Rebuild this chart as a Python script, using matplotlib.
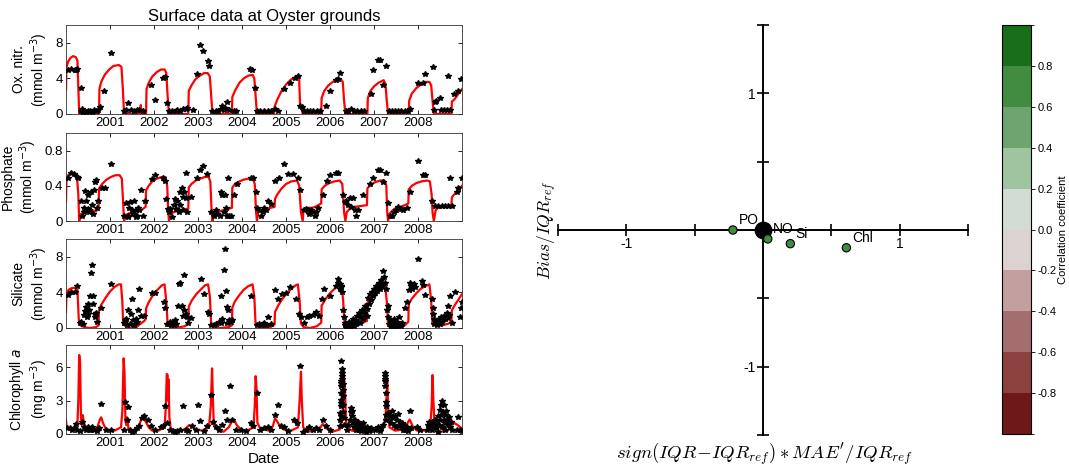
import numpy as np
import matplotlib
matplotlib.use("Agg")
import matplotlib.pyplot as plt
from matplotlib.colors import ListedColormap, BoundaryNorm
from matplotlib.cm import ScalarMappable

plt.rcParams['font.family'] = ['Liberation Sans', 'DejaVu Sans']

# ---------------- time series (decimal years) ----------------
years = [2001, 2002, 2003, 2004, 2005, 2006, 2007, 2008]

# oxidised nitrogen: model (red) + observations (stars)
no_t = [2000.00, 2000.01, 2000.05, 2000.10, 2000.16, 2000.22, 2000.26, 2000.28, 2000.30,
        2000.75, 2000.76, 2000.80, 2000.88, 2000.98, 2001.08, 2001.20, 2001.26, 2001.29, 2001.32,
        2001.68, 2001.70, 2001.72, 2001.82, 2001.83, 2001.88, 2001.96, 2002.06, 2002.16, 2002.24, 2002.28, 2002.31, 2002.34,
        2002.78, 2002.79, 2002.85, 2002.94, 2003.04, 2003.14, 2003.22, 2003.27, 2003.30, 2003.33,
        2003.77, 2003.78, 2003.84, 2003.94, 2004.04, 2004.14, 2004.24, 2004.28, 2004.31, 2004.34,
        2004.73, 2004.74, 2004.77, 2004.80, 2004.90, 2005.00, 2005.12, 2005.27, 2005.30, 2005.32, 2005.35, 2005.38,
        2005.80, 2005.81, 2005.87, 2005.96, 2006.06, 2006.16, 2006.25, 2006.29, 2006.32, 2006.35,
        2006.85, 2006.86, 2006.92, 2007.00, 2007.10, 2007.22, 2007.26, 2007.29, 2007.32,
        2007.79, 2007.80, 2007.86, 2007.96, 2008.06, 2008.16, 2008.26, 2008.30, 2008.33, 2008.36,
        2008.76, 2008.77, 2008.82, 2008.88, 2008.95, 2009.00]
no_m = [2.7, 5.2, 5.9, 6.3, 6.5, 6.4, 6.0, 3.0, 0.0,
        0.0, 2.8, 3.6, 4.4, 5.0, 5.4, 5.5, 5.3, 3.0, 0.0,
        0.0, 1.0, 0.0, 0.0, 2.8, 3.5, 4.2, 4.7, 5.0, 5.0, 4.6, 2.0, 0.0,
        0.0, 2.6, 3.2, 3.9, 4.3, 4.6, 4.6, 4.2, 2.0, 0.0,
        0.0, 1.9, 2.6, 3.5, 4.0, 4.3, 4.4, 4.0, 2.0, 0.0,
        0.0, 0.8, 1.2, 1.6, 2.6, 3.3, 3.9, 4.2, 3.8, 0.9, 0.8, 0.0,
        0.0, 1.8, 2.6, 3.2, 3.6, 3.9, 3.9, 3.6, 1.5, 0.0,
        0.0, 1.8, 2.6, 3.1, 3.5, 3.8, 3.4, 1.5, 0.0,
        0.0, 1.5, 2.3, 2.9, 3.3, 3.6, 3.6, 3.2, 1.5, 0.0,
        0.0, 1.4, 1.6, 2.0, 2.5, 2.8]
no_obs_t = [2000.05, 2000.11, 2000.20, 2000.23, 2000.26, 2000.35, 2000.33, 2000.36, 2000.38, 2000.42,
            2000.46, 2000.50, 2000.55, 2000.60, 2000.63, 2000.68, 2000.72, 2000.77, 2000.87, 2001.03,
            2001.32, 2001.37, 2001.42, 2001.48, 2001.54, 2001.61, 2001.67, 2001.75, 2001.93, 2002.02,
            2002.20, 2002.24, 2002.30, 2002.34, 2002.41, 2002.49, 2002.53, 2002.60, 2002.66, 2002.72,
            2002.75, 2002.89, 2002.97, 2003.04, 2003.12, 2003.22, 2003.24, 2003.31, 2003.40, 2003.46,
            2003.52, 2003.54, 2003.58, 2003.61, 2003.67, 2003.71, 2003.81, 2003.87, 2004.19, 2004.22,
            2004.29, 2004.35, 2004.42, 2004.50, 2004.58, 2004.66, 2004.75, 2004.81, 2004.96, 2005.08,
            2005.21, 2005.27, 2005.32, 2005.36, 2005.42, 2005.48, 2005.55, 2005.62, 2005.70, 2005.78,
            2005.91, 2005.99, 2006.14, 2006.18, 2006.22, 2006.36, 2006.42, 2006.48, 2006.55, 2006.62,
            2006.70, 2006.78, 2006.93, 2006.98, 2007.08, 2007.13, 2007.21, 2007.28, 2007.33, 2007.40,
            2007.47, 2007.55, 2007.62, 2007.70, 2007.77, 2007.82, 2007.99, 2008.12, 2008.16, 2008.33,
            2008.36, 2008.39, 2008.42, 2008.50, 2008.52, 2008.60, 2008.66, 2008.69, 2008.73, 2008.81,
            2008.92, 2008.98]
no_obs = [4.9, 5.1, 5.0, 5.0, 5.1, 2.9, 0.3, 0.6, 0.2, 0.3,
          0.2, 0.3, 0.3, 0.2, 0.4, 0.3, 0.5, 0.8, 2.6, 6.8,
          0.3, 0.4, 1.2, 0.5, 0.3, 0.4, 0.5, 0.3, 3.3, 1.6,
          4.1, 4.2, 1.2, 0.3, 0.3, 0.3, 0.5, 0.3, 0.6, 0.6,
          0.7, 0.4, 4.5, 7.7, 7.1, 5.9, 5.4, 0.3, 0.3, 0.3,
          0.6, 0.9, 0.4, 0.7, 1.3, 0.5, 0.3, 0.3, 5.1, 4.9,
          2.9, 0.3, 0.3, 0.3, 0.3, 0.3, 0.6, 0.3, 2.8, 3.5,
          4.1, 4.3, 0.9, 0.8, 0.3, 0.3, 0.3, 0.3, 0.3, 0.3,
          0.9, 2.6, 3.8, 3.9, 4.6, 0.3, 0.3, 0.6, 0.3, 0.3,
          0.3, 0.3, 2.2, 4.9, 6.1, 6.1, 3.3, 5.4, 0.3, 0.3,
          0.3, 0.3, 0.3, 0.3, 0.3, 0.6, 3.5, 3.5, 4.5, 5.3,
          0.5, 1.4, 1.5, 1.8, 0.5, 0.4, 0.4, 4.3, 0.5, 2.3,
          2.6, 3.9]

# phosphate
po_t = [2000.00, 2000.01, 2000.05, 2000.12, 2000.20, 2000.25, 2000.28, 2000.30, 2000.32, 2000.34,
        2000.45, 2000.55, 2000.62, 2000.68, 2000.74, 2000.75, 2000.82, 2000.92, 2001.02, 2001.12,
        2001.22, 2001.27, 2001.30, 2001.32, 2001.35, 2001.40, 2001.50, 2001.60, 2001.66, 2001.70,
        2001.78, 2001.81, 2001.82, 2001.88, 2001.96, 2002.06, 2002.18, 2002.26, 2002.30, 2002.32,
        2002.34, 2002.36, 2002.45, 2002.55, 2002.65, 2002.78, 2002.79, 2002.85, 2002.95, 2003.05,
        2003.15, 2003.24, 2003.28, 2003.31, 2003.33, 2003.36, 2003.45, 2003.55, 2003.65, 2003.77,
        2003.78, 2003.84, 2003.94, 2004.04, 2004.14, 2004.25, 2004.29, 2004.32, 2004.34, 2004.37,
        2004.45, 2004.55, 2004.65, 2004.74, 2004.75, 2004.80, 2004.90, 2005.00, 2005.12, 2005.25,
        2005.30, 2005.34, 2005.38, 2005.40, 2005.50, 2005.60, 2005.70, 2005.80, 2005.81, 2005.88,
        2005.98, 2006.10, 2006.22, 2006.28, 2006.32, 2006.35, 2006.38, 2006.45, 2006.55, 2006.70,
        2006.84, 2006.85, 2006.92, 2007.02, 2007.14, 2007.24, 2007.28, 2007.30, 2007.32, 2007.35,
        2007.42, 2007.50, 2007.60, 2007.70, 2007.78, 2007.79, 2007.86, 2007.96, 2008.08, 2008.20,
        2008.27, 2008.31, 2008.33, 2008.36, 2008.40, 2008.45, 2008.55, 2008.65, 2008.76, 2008.77,
        2008.82, 2008.90, 2008.96, 2009.00]
po_m = [0.22, 0.45, 0.52, 0.55, 0.53, 0.50, 0.30, 0.00, 0.05, 0.08,
        0.10, 0.10, 0.12, 0.11, 0.14, 0.37, 0.42, 0.47, 0.50, 0.52,
        0.52, 0.48, 0.20, 0.00, 0.06, 0.08, 0.10, 0.11, 0.14, 0.12,
        0.15, 0.16, 0.35, 0.40, 0.45, 0.48, 0.50, 0.50, 0.40, 0.15,
        0.00, 0.08, 0.10, 0.12, 0.13, 0.14, 0.38, 0.42, 0.46, 0.48,
        0.50, 0.50, 0.45, 0.10, 0.00, 0.07, 0.10, 0.12, 0.13, 0.15,
        0.38, 0.42, 0.45, 0.47, 0.48, 0.48, 0.42, 0.10, 0.00, 0.10,
        0.12, 0.14, 0.15, 0.16, 0.25, 0.30, 0.37, 0.42, 0.45, 0.46,
        0.40, 0.10, 0.00, 0.14, 0.15, 0.15, 0.17, 0.20, 0.36, 0.40,
        0.43, 0.45, 0.46, 0.42, 0.10, 0.00, 0.10, 0.14, 0.16, 0.17,
        0.18, 0.37, 0.41, 0.44, 0.46, 0.46, 0.40, 0.10, 0.00, 0.08,
        0.12, 0.15, 0.16, 0.18, 0.20, 0.36, 0.40, 0.43, 0.45, 0.46,
        0.45, 0.30, 0.10, 0.00, 0.12, 0.15, 0.16, 0.17, 0.18, 0.27,
        0.30, 0.34, 0.37, 0.40]
po_obs_t = [2000.05, 2000.11, 2000.18, 2000.24, 2000.28, 2000.33, 2000.36, 2000.40, 2000.43, 2000.46,
            2000.49, 2000.51, 2000.53, 2000.56, 2000.59, 2000.61, 2000.64, 2000.66, 2000.68, 2000.70,
            2000.72, 2000.52, 2000.41, 2000.81, 2000.89, 2001.02, 2001.32, 2001.36, 2001.40, 2001.43,
            2001.46, 2001.49, 2001.52, 2001.55, 2001.58, 2001.61, 2001.64, 2001.67, 2001.70, 2001.74,
            2001.59, 2001.42, 2001.80, 2001.96, 2002.03, 2002.21, 2002.24, 2002.28, 2002.31, 2002.34,
            2002.37, 2002.41, 2002.45, 2002.48, 2002.51, 2002.53, 2002.56, 2002.58, 2002.60, 2002.63,
            2002.65, 2002.67, 2002.69, 2002.72, 2002.75, 2002.73, 2002.83, 2002.97, 2003.04, 2003.12,
            2003.21, 2003.30, 2003.36, 2003.40, 2003.44, 2003.50, 2003.53, 2003.55, 2003.58, 2003.61,
            2003.63, 2003.65, 2003.68, 2003.71, 2003.74, 2003.81, 2003.88, 2004.20, 2004.24, 2004.32,
            2004.35, 2004.39, 2004.43, 2004.47, 2004.51, 2004.54, 2004.58, 2004.66, 2004.75, 2004.85,
            2004.95, 2005.05, 2005.15, 2005.27, 2005.31, 2005.42, 2005.46, 2005.49, 2005.53, 2005.57,
            2005.61, 2005.65, 2005.69, 2005.72, 2005.84, 2005.94, 2005.99, 2006.14, 2006.19, 2006.29,
            2006.33, 2006.37, 2006.41, 2006.45, 2006.48, 2006.52, 2006.56, 2006.60, 2006.64, 2006.75,
            2006.90, 2006.98, 2007.08, 2007.13, 2007.21, 2007.28, 2007.32, 2007.36, 2007.41, 2007.46,
            2007.51, 2007.55, 2007.61, 2007.66, 2007.74, 2007.82, 2007.99, 2008.12, 2008.17, 2008.31,
            2008.39, 2008.46, 2008.54, 2008.61, 2008.69, 2008.73, 2008.78, 2008.88, 2008.92, 2008.99]
po_obs = [0.49, 0.55, 0.53, 0.50, 0.49, 0.23, 0.06, 0.15, 0.34, 0.23,
          0.14, 0.30, 0.10, 0.33, 0.18, 0.08, 0.35, 0.44, 0.47, 0.15,
          0.23, 0.12, 0.10, 0.38, 0.38, 0.65, 0.06, 0.20, 0.06, 0.15,
          0.22, 0.12, 0.08, 0.23, 0.13, 0.06, 0.15, 0.12, 0.35, 0.06,
          0.05, 0.05, 0.23, 0.48, 0.52, 0.49, 0.45, 0.25, 0.14, 0.10,
          0.14, 0.05, 0.18, 0.25, 0.14, 0.23, 0.10, 0.18, 0.33, 0.38,
          0.27, 0.12, 0.33, 0.26, 0.10, 0.55, 0.27, 0.49, 0.58, 0.62,
          0.53, 0.10, 0.06, 0.12, 0.08, 0.06, 0.33, 0.29, 0.10, 0.29,
          0.15, 0.06, 0.49, 0.06, 0.06, 0.29, 0.42, 0.49, 0.49, 0.33,
          0.15, 0.13, 0.06, 0.10, 0.15, 0.12, 0.23, 0.19, 0.45, 0.49,
          0.65, 0.53, 0.53, 0.49, 0.35, 0.12, 0.14, 0.12, 0.08, 0.13,
          0.10, 0.06, 0.10, 0.15, 0.29, 0.45, 0.52, 0.55, 0.55, 0.29,
          0.22, 0.23, 0.18, 0.26, 0.16, 0.26, 0.12, 0.06, 0.12, 0.29,
          0.42, 0.49, 0.58, 0.58, 0.44, 0.55, 0.20, 0.06, 0.06, 0.10,
          0.12, 0.16, 0.14, 0.13, 0.15, 0.33, 0.68, 0.52, 0.52, 0.23,
          0.17, 0.17, 0.17, 0.17, 0.17, 0.49, 0.17, 0.33, 0.37, 0.49]

# silicate
si_t = [2000.00, 2000.01, 2000.06, 2000.14, 2000.22, 2000.26, 2000.29, 2000.31, 2000.36, 2000.45,
        2000.55, 2000.68, 2000.74, 2000.75, 2000.80, 2000.90, 2001.00, 2001.10, 2001.20, 2001.25,
        2001.28, 2001.30, 2001.36, 2001.45, 2001.60, 2001.70, 2001.78, 2001.81, 2001.82, 2001.88,
        2001.98, 2002.08, 2002.18, 2002.24, 2002.28, 2002.31, 2002.38, 2002.50, 2002.70, 2002.78,
        2002.79, 2002.86, 2002.96, 2003.06, 2003.16, 2003.23, 2003.27, 2003.30, 2003.36, 2003.50,
        2003.70, 2003.77, 2003.78, 2003.84, 2003.94, 2004.04, 2004.14, 2004.24, 2004.28, 2004.31,
        2004.38, 2004.50, 2004.65, 2004.74, 2004.75, 2004.82, 2004.92, 2005.02, 2005.12, 2005.22,
        2005.27, 2005.31, 2005.34, 2005.40, 2005.55, 2005.70, 2005.80, 2005.81, 2005.88, 2005.98,
        2006.08, 2006.18, 2006.26, 2006.30, 2006.33, 2006.40, 2006.55, 2006.70, 2006.84, 2006.85,
        2006.92, 2007.02, 2007.12, 2007.20, 2007.25, 2007.29, 2007.32, 2007.40, 2007.55, 2007.70,
        2007.78, 2007.79, 2007.86, 2007.96, 2008.06, 2008.16, 2008.26, 2008.30, 2008.33, 2008.40,
        2008.55, 2008.70, 2008.76, 2008.77, 2008.84, 2008.92, 2009.00]
si_m = [1.8, 3.8, 4.3, 4.5, 4.5, 4.3, 1.0, 0.4, 0.2, 0.05,
        0.0, 0.1, 0.3, 2.0, 2.6, 3.4, 4.1, 4.6, 4.9, 4.9,
        3.0, 0.4, 0.2, 0.0, 0.1, 0.5, 0.8, 1.0, 2.2, 2.9,
        3.7, 4.3, 4.8, 4.9, 3.0, 0.4, 0.1, 0.0, 0.2, 0.5,
        2.4, 3.1, 3.8, 4.3, 4.8, 4.9, 3.5, 0.3, 0.1, 0.0,
        0.1, 0.3, 2.3, 3.0, 3.7, 4.3, 4.7, 4.9, 3.5, 0.3,
        0.1, 0.0, 0.1, 0.4, 1.8, 2.5, 3.3, 3.9, 4.4, 4.8,
        4.9, 3.0, 0.5, 0.1, 0.0, 0.2, 0.6, 2.5, 3.1, 3.8,
        4.3, 4.7, 4.9, 3.0, 0.5, 0.2, 0.3, 0.5, 0.8, 2.8,
        3.4, 4.0, 4.5, 4.8, 4.9, 3.0, 0.4, 0.1, 0.0, 0.3,
        0.7, 2.7, 3.3, 3.9, 4.4, 4.7, 4.9, 3.0, 0.4, 0.3,
        0.3, 0.5, 0.8, 2.0, 2.6, 3.2, 3.8]
si_obs_t = [2000.05, 2000.11, 2000.21, 2000.26, 2000.32, 2000.35, 2000.38, 2000.41, 2000.43, 2000.46,
            2000.47, 2000.49, 2000.51, 2000.53, 2000.55, 2000.56, 2000.59, 2000.61, 2000.62, 2000.65,
            2000.66, 2000.68, 2000.70, 2000.79, 2001.02, 2001.32, 2001.35, 2001.37, 2001.39, 2001.42,
            2001.45, 2001.48, 2001.50, 2001.52, 2001.55, 2001.58, 2001.61, 2001.64, 2001.67, 2001.70,
            2001.78, 2001.96, 2002.03, 2002.22, 2002.25, 2002.30, 2002.34, 2002.36, 2002.39, 2002.42,
            2002.45, 2002.48, 2002.51, 2002.54, 2002.56, 2002.60, 2002.64, 2002.66, 2002.68, 2002.69,
            2002.72, 2002.74, 2002.77, 2002.83, 2003.06, 2003.14, 2003.23, 2003.25, 2003.29, 2003.36,
            2003.42, 2003.48, 2003.52, 2003.53, 2003.55, 2003.58, 2003.61, 2003.63, 2003.65, 2003.67,
            2003.69, 2003.71, 2003.74, 2003.78, 2004.20, 2004.34, 2004.39, 2004.43, 2004.47, 2004.51,
            2004.54, 2004.58, 2004.67, 2004.75, 2004.81, 2004.92, 2005.00, 2005.08, 2005.23, 2005.30,
            2005.33, 2005.42, 2005.48, 2005.53, 2005.61, 2005.68, 2005.74, 2005.81, 2005.86, 2005.99,
            2006.14, 2006.18, 2006.19, 2006.22, 2006.24, 2006.26, 2006.23, 2006.27, 2006.29, 2006.32,
            2006.33, 2006.35, 2006.37, 2006.39, 2006.41, 2006.43, 2006.45, 2006.48, 2006.50, 2006.52,
            2006.54, 2006.57, 2006.59, 2006.61, 2006.64, 2006.66, 2006.68, 2006.70, 2006.73, 2006.75,
            2006.77, 2006.80, 2006.83, 2006.85, 2006.86, 2006.89, 2006.91, 2006.93, 2006.96, 2006.98,
            2007.00, 2007.02, 2007.05, 2007.07, 2007.09, 2007.12, 2007.14, 2007.16, 2007.18, 2007.21,
            2007.23, 2007.25, 2007.27, 2007.29, 2007.31, 2007.32, 2007.34, 2007.37, 2007.39, 2007.41,
            2007.44, 2007.46, 2007.48, 2007.50, 2007.53, 2007.55, 2007.57, 2007.60, 2007.62, 2007.64,
            2007.70, 2007.76, 2007.79, 2007.82, 2007.84, 2007.87, 2007.90, 2007.93, 2007.99, 2008.10,
            2008.12, 2008.17, 2008.31, 2008.33, 2008.34, 2008.36, 2008.37, 2008.40, 2008.43, 2008.46,
            2008.49, 2008.52, 2008.55, 2008.58, 2008.61, 2008.65, 2008.68, 2008.69, 2008.71, 2008.72,
            2008.77, 2008.84, 2008.96, 2008.98, 2008.995]
si_obs = [3.7, 4.1, 4.1, 4.7, 0.6, 0.7, 0.5, 1.5, 1.9, 2.4,
          1.2, 2.7, 1.6, 2.0, 3.6, 6.2, 7.1, 2.7, 3.6, 1.6,
          1.2, 1.7, 0.7, 2.3, 4.9, 0.6, 0.9, 1.0, 0.3, 2.0,
          0.5, 1.6, 3.3, 0.9, 0.3, 1.0, 0.7, 2.0, 4.4, 1.4,
          1.4, 3.9, 3.9, 2.9, 2.3, 0.5, 0.4, 0.7, 0.3, 0.6,
          0.3, 0.9, 0.5, 2.5, 4.9, 5.1, 2.5, 1.4, 2.0, 6.0,
          1.6, 1.2, 0.6, 1.1, 5.5, 3.8, 1.8, 1.6, 0.3, 0.3,
          0.5, 0.7, 3.6, 0.6, 1.0, 6.5, 8.9, 4.2, 2.4, 0.6,
          2.0, 0.9, 0.7, 0.9, 3.6, 0.3, 0.5, 0.3, 0.5, 0.6,
          0.3, 1.2, 0.5, 4.3, 3.3, 3.8, 3.9, 4.6, 3.3, 1.6,
          1.2, 0.6, 1.2, 1.4, 1.5, 1.8, 1.4, 3.3, 4.4, 3.6,
          4.7, 5.1, 5.5, 4.9, 4.7, 4.6, 4.4, 4.0, 2.0, 1.2,
          0.6, 0.3, 0.1, 0.5, 0.2, 0.7, 0.1, 0.6, 0.4, 1.0,
          0.2, 0.9, 0.5, 1.4, 0.7, 1.7, 0.6, 1.2, 2.0, 1.0,
          1.7, 2.5, 1.4, 2.1, 3.4, 2.7, 3.8, 3.1, 4.1, 3.6,
          4.4, 3.9, 4.7, 4.2, 4.6, 5.1, 4.4, 5.4, 4.7, 6.4,
          5.7, 5.1, 4.4, 2.0, 1.2, 2.5, 0.4, 0.9, 0.1, 0.6,
          0.2, 1.0, 0.4, 0.1, 0.7, 0.3, 1.2, 0.5, 0.2, 0.6,
          2.3, 2.9, 4.3, 5.1, 4.7, 4.4, 4.9, 4.6, 7.7, 5.3,
          4.8, 3.7, 3.3, 2.3, 1.6, 1.0, 0.4, 0.6, 0.3, 0.9,
          0.5, 1.2, 0.7, 1.4, 1.0, 1.7, 1.1, 2.5, 1.5, 3.6,
          0.6, 4.1, 1.2, 2.3, 2.9]

# chlorophyll a
chl_t = [2000.00, 2000.02, 2000.10, 2000.20, 2000.26, 2000.28, 2000.30, 2000.32, 2000.34, 2000.36,
         2000.38, 2000.40, 2000.45, 2000.55, 2000.65, 2000.72, 2000.77, 2000.80, 2000.84, 2000.90,
         2000.98, 2001.10, 2001.25, 2001.28, 2001.31, 2001.33, 2001.35, 2001.37, 2001.39, 2001.42,
         2001.50, 2001.62, 2001.70, 2001.73, 2001.76, 2001.80, 2001.88, 2001.96, 2002.10, 2002.24,
         2002.27, 2002.29, 2002.31, 2002.32, 2002.33, 2002.35, 2002.38, 2002.50, 2002.65, 2002.75,
         2002.80, 2002.86, 2002.95, 2003.10, 2003.25, 2003.29, 2003.32, 2003.34, 2003.36, 2003.45,
         2003.58, 2003.70, 2003.78, 2003.82, 2003.88, 2003.98, 2004.12, 2004.26, 2004.29, 2004.31,
         2004.33, 2004.35, 2004.40, 2004.50, 2004.62, 2004.70, 2004.75, 2004.79, 2004.86, 2004.95,
         2005.12, 2005.27, 2005.31, 2005.34, 2005.36, 2005.39, 2005.48, 2005.65, 2005.78, 2005.84,
         2005.92, 2006.05, 2006.22, 2006.28, 2006.32, 2006.34, 2006.37, 2006.50, 2006.65, 2006.85,
         2007.05, 2007.22, 2007.27, 2007.30, 2007.32, 2007.35, 2007.48, 2007.65, 2007.75, 2007.81,
         2007.88, 2007.98, 2008.15, 2008.28, 2008.31, 2008.33, 2008.35, 2008.38, 2008.52, 2008.68,
         2008.78, 2008.82, 2008.90, 2009.00]
chl_m = [1.2, 0.5, 0.4, 0.5, 0.9, 3.0, 7.1, 6.5, 1.5, 0.8,
         1.7, 1.2, 0.4, 0.2, 0.3, 0.7, 1.3, 1.5, 1.0, 0.5,
         0.3, 0.3, 0.6, 2.0, 6.8, 5.5, 1.2, 0.8, 1.5, 0.5,
         0.2, 0.4, 1.2, 1.6, 1.7, 1.2, 0.6, 0.3, 0.3, 0.6,
         2.5, 5.4, 5.3, 3.0, 4.9, 1.5, 0.5, 0.2, 0.3, 0.6,
         0.8, 0.7, 0.4, 0.3, 0.6, 2.5, 5.9, 3.0, 0.8, 0.4,
         0.2, 0.6, 1.2, 1.3, 0.8, 0.4, 0.3, 0.6, 2.5, 5.2,
         4.0, 1.0, 0.6, 0.4, 0.3, 0.7, 1.4, 1.2, 0.7, 0.4,
         0.3, 0.6, 3.0, 5.6, 3.0, 0.6, 0.2, 0.3, 0.6, 0.9,
         0.5, 0.2, 0.4, 1.5, 5.0, 4.0, 0.6, 0.3, 0.2, 0.3,
         0.3, 0.6, 2.0, 4.9, 2.5, 0.6, 0.3, 0.4, 0.9, 1.3,
         0.7, 0.3, 0.3, 0.6, 2.5, 5.3, 3.0, 0.5, 0.2, 0.3,
         0.9, 1.0, 0.8, 0.5]
chl_obs_t = [2000.03, 2000.08, 2000.13, 2000.18, 2000.23, 2000.26, 2000.32, 2000.37, 2000.41, 2000.46,
             2000.50, 2000.55, 2000.59, 2000.64, 2000.70, 2000.76, 2000.79, 2000.91, 2001.03, 2001.31,
             2001.35, 2001.39, 2001.42, 2001.46, 2001.51, 2001.55, 2001.61, 2001.67, 2001.73, 2001.78,
             2001.86, 2001.93, 2002.03, 2002.15, 2002.21, 2002.26, 2002.30, 2002.37, 2002.44, 2002.48,
             2002.53, 2002.60, 2002.66, 2002.72, 2002.77, 2002.87, 2002.95, 2003.00, 2003.04, 2003.14,
             2003.21, 2003.29, 2003.33, 2003.40, 2003.48, 2003.55, 2003.61, 2003.67, 2003.73, 2003.78,
             2003.86, 2003.97, 2004.09, 2004.20, 2004.26, 2004.35, 2004.41, 2004.51, 2004.58, 2004.67,
             2004.75, 2004.81, 2004.89, 2004.96, 2005.04, 2005.19, 2005.25, 2005.32, 2005.38, 2005.46,
             2005.53, 2005.61, 2005.68, 2005.76, 2005.84, 2005.91, 2005.99,
             2006.22, 2006.23, 2006.23, 2006.24, 2006.25, 2006.26, 2006.26, 2006.26, 2006.27, 2006.27,
             2006.25, 2006.28, 2006.29, 2006.29, 2006.30, 2006.30, 2006.31, 2006.32, 2006.24, 2006.26,
             2006.25, 2006.28, 2006.29,
             2006.39, 2006.42, 2006.45, 2006.47, 2006.48, 2006.50, 2006.51, 2006.53, 2006.54, 2006.56,
             2006.58, 2006.59, 2006.61, 2006.62, 2006.64, 2006.65, 2006.67, 2006.70, 2006.71, 2006.73,
             2006.76, 2006.79, 2006.82, 2006.85, 2006.88, 2006.91, 2006.94, 2007.02, 2007.08, 2007.13,
             2007.17, 2007.21, 2007.25, 2007.255, 2007.26, 2007.26, 2007.27, 2007.27, 2007.28, 2007.28,
             2007.27, 2007.26, 2007.32, 2007.34, 2007.37, 2007.39, 2007.41, 2007.44, 2007.46, 2007.48,
             2007.50, 2007.53, 2007.55, 2007.57, 2007.60, 2007.62, 2007.64, 2007.66, 2007.69, 2007.71,
             2007.74, 2007.77, 2007.81, 2007.85, 2007.97, 2008.04,
             2008.20, 2008.22, 2008.24, 2008.26, 2008.29, 2008.31, 2008.33, 2008.36, 2008.38, 2008.40,
             2008.42, 2008.45, 2008.47, 2008.49, 2008.50, 2008.52, 2008.53, 2008.55, 2008.56, 2008.58,
             2008.59, 2008.61, 2008.62, 2008.64, 2008.65, 2008.68, 2008.70, 2008.72, 2008.74, 2008.77,
             2008.54, 2008.46, 2008.62, 2008.88, 2008.92, 2008.96, 2008.99]
chl_obs = [0.5, 0.5, 0.4, 0.5, 0.9, 0.4, 0.3, 1.1, 0.6, 0.4,
           0.6, 0.4, 0.6, 0.4, 0.3, 0.5, 2.7, 0.4, 0.4, 0.4,
           2.9, 1.3, 2.4, 0.4, 0.2, 0.3, 0.5, 0.7, 1.4, 1.6,
           1.3, 0.7, 0.4, 0.6, 0.7, 2.5, 1.0, 0.4, 0.3, 0.2,
           0.3, 0.4, 2.5, 0.4, 0.3, 0.7, 0.4, 2.6, 1.2, 0.3,
           0.7, 3.5, 1.1, 0.6, 0.4, 0.8, 2.1, 1.3, 4.3, 1.3,
           0.4, 0.4, 0.3, 1.0, 0.7, 3.7, 0.4, 0.5, 0.6, 0.4,
           1.7, 2.6, 0.7, 0.6, 0.3, 1.3, 1.0, 6.1, 0.2, 0.4,
           0.6, 0.4, 0.5, 0.4, 1.3, 0.7, 0.4,
           0.7, 1.3, 1.9, 2.5, 3.1, 3.7, 4.3, 4.8, 5.2, 5.8,
           6.6, 4.9, 4.0, 3.4, 2.6, 2.0, 1.4, 0.8, 1.6, 2.8,
           4.6, 5.5, 4.5,
           0.4, 0.8, 1.3, 2.0, 2.3, 2.1, 1.6, 1.0, 0.6, 1.3,
           0.8, 0.4, 1.0, 0.6, 1.1, 0.4, 0.8, 0.3, 0.8, 0.5,
           1.0, 0.4, 0.2, 0.6, 0.3, 0.4, 0.5, 0.4, 0.6, 0.3,
           0.5, 0.8, 5.5, 4.8, 4.3, 5.2, 3.7, 2.5, 1.7, 1.3,
           2.9, 4.9, 1.9, 1.3, 1.7, 1.0, 2.1, 1.4, 0.8, 1.6,
           0.6, 1.3, 1.8, 0.8, 1.1, 0.6, 1.0, 0.4, 0.8, 0.4,
           0.6, 0.3, 2.1, 0.5, 0.6, 0.4,
           0.4, 0.8, 1.1, 0.6, 1.0, 0.4, 1.1, 0.7, 1.3, 0.5,
           1.0, 1.6, 0.8, 2.2, 1.3, 2.6, 1.7, 3.0, 2.0, 1.3,
           2.6, 1.7, 1.0, 2.1, 1.3, 0.8, 1.5, 0.6, 1.1, 0.4,
           0.6, 0.2, 0.4, 0.4, 1.5, 0.4, 0.3]

# ---------------- target diagram ----------------
tgt_names = ["PO", "NO", "Si", "Chl"]
tgt_x = [-0.22, 0.035, 0.20, 0.61]
tgt_y = [0.0, -0.065, -0.10, -0.13]
tgt_corr = [0.62, 0.62, 0.62, 0.62]

corr_colors = ["#6e1919", "#8c4141", "#a56e6e", "#c3a0a0", "#dcd2d2",
               "#d2dcd2", "#a0c3a0", "#6ea56e", "#418c41", "#196e19"]
corr_bounds = [-1.0, -0.8, -0.6, -0.4, -0.2, 0.0, 0.2, 0.4, 0.6, 0.8, 1.0]
corr_ticks = [-0.8, -0.6, -0.4, -0.2, 0.0, 0.2, 0.4, 0.6, 0.8]

W, H = 1069, 470
fig = plt.figure(figsize=(W / 100, H / 100), dpi=100)


def fr(x0, y0, x1, y1):
    # pixel box -> figure fraction [left, bottom, width, height]
    return [x0 / W, 1 - y1 / H, (x1 - x0) / W, (y1 - y0) / H]


panels = [
    (fr(66, 25, 462, 114), no_t, no_m, no_obs_t, no_obs, (0, 10), [0, 4, 8], ["0", "4", "8"],
     "Ox. nitr.\n(mmol m$^{-3}$)"),
    (fr(66, 133, 462, 221), po_t, po_m, po_obs_t, po_obs, (0, 1), [0, 0.4, 0.8], ["0", "0.4", "0.8"],
     "Phosphate\n(mmol m$^{-3}$)"),
    (fr(66, 239, 462, 328), si_t, si_m, si_obs_t, si_obs, (0, 10), [0, 4, 8], ["0", "4", "8"],
     "Silicate\n(mmol m$^{-3}$)"),
    (fr(66, 345, 462, 434), chl_t, chl_m, chl_obs_t, chl_obs, (0, 8), [0, 3, 6], ["0", "3", "6"],
     "Chlorophyll $a$\n(mg m$^{-3}$)"),
]

axes = []
for rect, mt, mv, ot, ov, ylim, yt, ytl, ylab in panels:
    ax = fig.add_axes(rect)
    ax.plot(mt, mv, color="red", lw=1.6, zorder=2)
    ax.plot(ot, ov, ls="none", marker="*", color="black", ms=3.8, zorder=3)
    ax.set_xlim(2000, 2009)
    ax.set_ylim(*ylim)
    ax.set_xticks(years)
    ax.set_xticklabels([str(y) for y in years])
    ax.set_yticks(yt)
    ax.set_yticklabels(ytl)
    ax.tick_params(direction="in", top=True, right=True, length=3, width=0.6,
                   labelsize=9.5, pad=2)
    for s in ax.spines.values():
        s.set_linewidth(0.6)
        s.set_color("#333333")
    ax.set_ylabel(ylab, fontsize=10, linespacing=1.2, labelpad=4)
    axes.append(ax)

axes[0].set_title("Surface data at Oyster grounds", fontsize=12, pad=3)
axes[-1].set_xlabel("Date", fontsize=11, labelpad=2)

# target diagram
tx = fig.add_axes(fr(558, 25, 968, 435))
tx.set_xlim(-1.5, 1.5)
tx.set_ylim(-1.5, 1.5)
for side in ("top", "right"):
    tx.spines[side].set_visible(False)
for side in ("left", "bottom"):
    tx.spines[side].set_position("zero")
    tx.spines[side].set_linewidth(1.4)
tx.set_xticks([-1.5, -1, -0.5, 0.5, 1, 1.5])
tx.set_xticklabels(["", "-1", "", "", "1", ""])
tx.set_yticks([-1.5, -1, -0.5, 0.5, 1, 1.5])
tx.set_yticklabels(["", "-1", "", "", "1", ""])
tx.tick_params(direction="inout", length=8, width=1.2, labelsize=10, pad=1)

cmap = ListedColormap(corr_colors)
norm = BoundaryNorm(corr_bounds, cmap.N)
tx.scatter([0], [0], s=140, color="black", zorder=4, clip_on=False)
tx.scatter(tgt_x, tgt_y, c=tgt_corr, cmap=cmap, norm=norm, s=36,
           edgecolors="black", linewidths=0.8, zorder=5)
for name, x, y in zip(tgt_names, tgt_x, tgt_y):
    tx.text(x + 0.04, y + 0.07, name, fontsize=10, va="center", ha="left", zorder=6)

fig.text(764 / W, 1 - 454 / H, r"$sign(IQR\!-\!IQR_{ref})*MAE'/IQR_{ref}$",
         ha="center", va="center", fontsize=13.5, math_fontfamily="cm")
fig.text(547 / W, 1 - 230 / H, r"$Bias/IQR_{ref}$", ha="center", va="center",
         rotation=90, fontsize=12.5, math_fontfamily="cm")

# colorbar
cax = fig.add_axes(fr(1002, 25, 1031, 434))
cb = fig.colorbar(ScalarMappable(norm=norm, cmap=cmap), cax=cax,
                  boundaries=corr_bounds, ticks=corr_ticks)
cb.ax.set_yticklabels([f"{t:.1f}" for t in corr_ticks])
cb.ax.tick_params(labelsize=8, length=3, width=0.6, pad=1.5)
cb.outline.set_linewidth(0.8)
fig.text(1063 / W, 1 - 229.5 / H, "Correlation coefficient", rotation=90,
         ha="center", va="center", fontsize=8)

fig.savefig("out.png", dpi=100)
